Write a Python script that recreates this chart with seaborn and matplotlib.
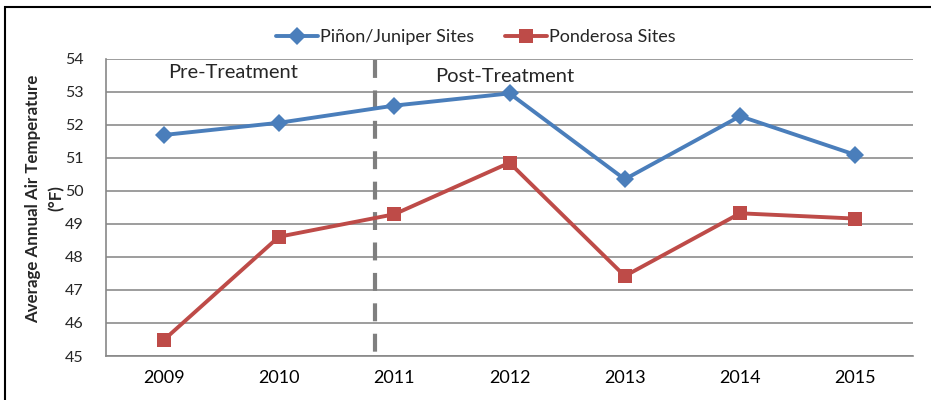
import numpy as np
import pandas as pd
import matplotlib
matplotlib.use("Agg")
import matplotlib.pyplot as plt
import seaborn as sns
from matplotlib.patches import Rectangle
from matplotlib.lines import Line2D

years = ["2009", "2010", "2011", "2012", "2013", "2014", "2015"]
pinon = [51.69, 52.06, 52.58, 52.95, 50.35, 52.26, 51.09]
ponderosa = [45.48, 48.61, 49.29, 50.85, 47.42, 49.32, 49.16]
series_names = ["Piñon/Juniper Sites", "Ponderosa Sites"]
yticks = [45, 46, 47, 48, 49, 50, 51, 52, 53, 54]
treatment_split = 1.83  # position between 2010 and 2011 (category units)

sns.set_theme(style="white")
plt.rcParams['font.family'] = ['Lato', 'DejaVu Sans']

pos = list(range(len(years)))
df_p = pd.DataFrame({"pos": pos, "value": pinon})
df_q = pd.DataFrame({"pos": pos, "value": ponderosa})

fig = plt.figure(figsize=(9.31, 4.0), dpi=100)
ax = fig.add_axes([106/931, 1 - 356/400, (913-106)/931, (356-58.7)/400])

blue = "#4A7EBB"
red = "#BE4B48"
sns.lineplot(data=df_p, x="pos", y="value", color=blue, marker="D",
             linewidth=2.8, markersize=9.5, markeredgewidth=0, ax=ax, zorder=3)
sns.lineplot(data=df_q, x="pos", y="value", color=red, marker="s",
             linewidth=2.8, markersize=10, markeredgewidth=0, ax=ax, zorder=3)

ax.set_xlim(-0.5, len(years) - 0.5)
ax.set_ylim(45, 54)
ax.set_yticks(yticks)
ax.set_yticklabels([str(v) for v in yticks], fontsize=11.5)
ax.set_xticks(range(len(years)))
ax.set_xticklabels(years, fontsize=13)
ax.set_xticks(np.arange(-0.5, len(years), 1.0), minor=True)
ax.tick_params(axis="x", which="major", length=0, pad=10, colors="black")
ax.tick_params(axis="x", which="minor", length=6, width=1.2, color="#888888", direction="out")
ax.tick_params(axis="y", which="major", length=6, width=1.2, color="#888888", direction="out", pad=10)
ax.set_xlabel("")
ax.set_ylabel("Average Annual Air Temperature\n(°F)", fontsize=12.2, fontweight="bold",
              linespacing=1.6)
ax.yaxis.set_label_coords(-0.0508, 0.53)

ax.yaxis.grid(True, color="#8c8c8c", linewidth=1.2)
ax.set_axisbelow(True)
for s in ["top", "right"]:
    ax.spines[s].set_visible(False)
ax.spines["left"].set_color("#888888")
ax.spines["left"].set_linewidth(1.2)
ax.spines["bottom"].set_color("#888888")
ax.spines["bottom"].set_linewidth(1.2)

ax.plot([treatment_split, treatment_split], [53.95, 44.8], color="#7f7f7f", linewidth=3.0,
        linestyle=(0, (4.3, 3.0)), zorder=2, clip_on=False)

ax.text(0.6, 53.58, "Pre-Treatment", fontsize=14.5, ha="center", va="center")
ax.text(2.96, 53.46, "Post-Treatment", fontsize=14.5, ha="center", va="center")

handles = [Line2D([0], [0], color=blue, marker="D", markersize=9.5, linewidth=2.8, markeredgewidth=0),
           Line2D([0], [0], color=red, marker="s", markersize=10, linewidth=2.8, markeredgewidth=0)]
fig.legend(handles, series_names, loc="center", bbox_to_anchor=(476/931, 1 - 37/400),
           ncol=2, frameon=False, fontsize=13, handlelength=2.3, columnspacing=1.7,
           handletextpad=0.15)

fig.patches.append(Rectangle((5/931, -0.05), 2, 1 - 7/400 + 0.05, transform=fig.transFigure,
                             fill=False, edgecolor="black", linewidth=1.5))

fig.savefig("out.png", dpi=100)
